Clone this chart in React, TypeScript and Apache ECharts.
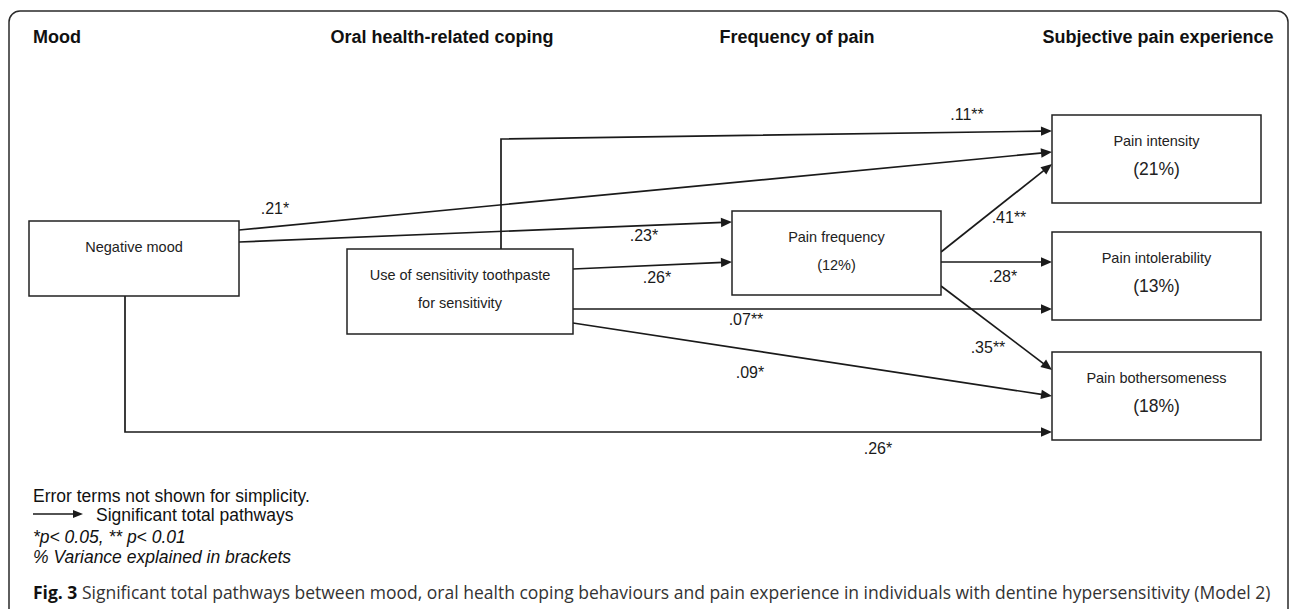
import React, { useEffect, useRef } from "react";
import * as echarts from "echarts";

// ---------- DATA ----------
const columnHeaders = ["Mood", "Oral health-related coping", "Frequency of pain", "Subjective pain experience"];
const variableLabels = [
  "Negative mood",
  "Use of sensitivity toothpaste\nfor sensitivity",
  "Pain frequency",
  "Pain intensity",
  "Pain intolerability",
  "Pain bothersomeness",
];
const varianceExplained: (number | null)[] = [null, null, 12, 21, 13, 18];
const pathFrom = [1, 0, 0, 1, 2, 2, 1, 2, 1, 0];
const pathTo = [3, 3, 2, 2, 3, 4, 4, 5, 5, 5];
const pathCoefficients = [".11", ".21", ".23", ".26", ".41", ".28", ".07", ".35", ".09", ".26"];
const pathSignificance = ["**", "*", "*", "*", "**", "*", "**", "**", "*", "*"];
const noteLines = [
  "Error terms not shown for simplicity.",
  "Significant total pathways",
  "*p< 0.05, ** p< 0.01",
  "% Variance explained in brackets",
];
const captionLead = "Fig. 3";
const captionText =
  "Significant total pathways between mood, oral health coping behaviours and pain experience in individuals with dentine hypersensitivity (Model 2)";

// ---------- LAYOUT (diagram space = pixel space of the canvas) ----------
const W = 1292;
const H = 609;
const FONT = '"Liberation Sans", Arial, Helvetica, sans-serif';
const CAPTION_FONT = '"Open Sans", "Noto Sans", sans-serif';
const INK = "#1a1a1a";

const BOXES = [
  { x: 29, y: 221, w: 210, h: 75 },
  { x: 347, y: 249, w: 226, h: 85 },
  { x: 732, y: 211, w: 209, h: 84 },
  { x: 1052, y: 115, w: 209, h: 88 },
  { x: 1052, y: 232, w: 209, h: 88 },
  { x: 1052, y: 352, w: 209, h: 88 },
];
const LINE1_OFFSET = 26;
const LINE2_OFFSET = 54;
const VARIANCE_FONT = [14.5, 14.5, 14.5, 17.5, 17.5, 17.5];

const PATH_ROUTES: number[][][] = [
  [[501, 249], [501, 139], [1052, 131]],
  [[239, 230], [1052, 152]],
  [[239, 242], [732, 222]],
  [[573, 269], [732, 262]],
  [[941, 252], [1052, 164]],
  [[941, 262], [1052, 262]],
  [[573, 309], [1052, 309]],
  [[941, 286], [1052, 370]],
  [[573, 323], [1052, 396]],
  [[125, 296], [125, 432], [1052, 432]],
];
const LABEL_ANCHORS = [
  [967, 114], [275, 208], [644, 235], [657, 277], [1009, 217],
  [1003, 276], [746, 319], [988, 347], [750, 372], [878, 448],
];
const HEADER_POS = [
  { x: 33, align: "left" },
  { x: 442, align: "center" },
  { x: 797, align: "center" },
  { x: 1158, align: "center" },
];

function arrowParts(pts: number[][], len = 11, hw = 4.7) {
  const n = pts.length;
  const [tx, ty] = pts[n - 1];
  const [px, py] = pts[n - 2];
  const dx = tx - px;
  const dy = ty - py;
  const d = Math.hypot(dx, dy) || 1;
  const ux = dx / d;
  const uy = dy / d;
  const bx = tx - ux * len;
  const by = ty - uy * len;
  const linePts = pts.slice(0, n - 1).concat([[bx + ux * 2, by + uy * 2]]);
  const head = [
    [tx, ty],
    [bx - uy * hw, by + ux * hw],
    [bx + uy * hw, by - ux * hw],
  ];
  return { linePts, head };
}

function buildOption(): any {
  const legendArrow = arrowParts([[33, 514], [83, 514]], 10, 4);
  return {
    animation: false,
    backgroundColor: "#ffffff",
    grid: { left: 0, right: 0, top: 0, bottom: 0, containLabel: false },
    xAxis: { type: "value", min: 0, max: W, show: false },
    yAxis: { type: "value", min: 0, max: H, inverse: true, show: false },
    graphic: [
      {
        type: "rect",
        z: 0,
        shape: { x: 9, y: 11, width: 1279, height: 660, r: 11 },
        style: { fill: "none", stroke: "#2a2a2a", lineWidth: 1.5 },
      },
      ...columnHeaders.map((h, i) => ({
        type: "text",
        z: 5,
        style: {
          text: h,
          x: HEADER_POS[i].x,
          y: 37,
          align: HEADER_POS[i].align,
          verticalAlign: "middle",
          font: `bold 18px ${FONT}`,
          fill: "#111",
        },
      })),
      {
        type: "text",
        style: { text: noteLines[0], x: 33, y: 496, verticalAlign: "middle", font: `17.5px ${FONT}`, fill: "#111" },
      },
      {
        type: "polyline",
        shape: { points: legendArrow.linePts },
        style: { stroke: INK, lineWidth: 1.6, fill: "none" },
      },
      { type: "polygon", shape: { points: legendArrow.head }, style: { fill: INK } },
      {
        type: "text",
        style: { text: noteLines[1], x: 96, y: 515, verticalAlign: "middle", font: `17.5px ${FONT}`, fill: "#111" },
      },
      {
        type: "text",
        style: { text: noteLines[2], x: 33, y: 537, verticalAlign: "middle", font: `italic 17.5px ${FONT}`, fill: "#111" },
      },
      {
        type: "text",
        style: { text: noteLines[3], x: 33, y: 557, verticalAlign: "middle", font: `italic 17.5px ${FONT}`, fill: "#111" },
      },
      {
        type: "text",
        style: {
          text: `{b|${captionLead}} ${captionText}`,
          x: 33,
          y: 592,
          verticalAlign: "middle",
          font: `17.5px ${CAPTION_FONT}`,
          fill: "#333",
          rich: {
            b: { fontWeight: "bold", fontSize: 17.5, fontFamily: CAPTION_FONT, fill: "#111" },
          },
        },
      },
    ],
    series: [
      {
        type: "custom",
        name: "paths",
        coordinateSystem: "cartesian2d",
        data: pathCoefficients.map((c, i) => [pathFrom[i], pathTo[i]]),
        renderItem: (params: any, api: any) => {
          const i = params.dataIndex;
          const pts = PATH_ROUTES[i].map((p) => api.coord(p));
          const { linePts, head } = arrowParts(pts);
          const [lx, ly] = api.coord(LABEL_ANCHORS[i]);
          return {
            type: "group",
            children: [
              { type: "polyline", shape: { points: linePts }, style: { stroke: INK, lineWidth: 1.7, fill: "none" } },
              { type: "polygon", shape: { points: head }, style: { fill: INK } },
              {
                type: "text",
                style: {
                  text: pathCoefficients[i] + pathSignificance[i],
                  x: lx,
                  y: ly,
                  align: "center",
                  verticalAlign: "middle",
                  font: `16px ${FONT}`,
                  fill: INK,
                },
              },
            ],
          };
        },
      },
      {
        type: "custom",
        name: "variables",
        coordinateSystem: "cartesian2d",
        data: variableLabels.map((_, i) => [i, varianceExplained[i] ?? 0]),
        renderItem: (params: any, api: any) => {
          const i = params.dataIndex;
          const b = BOXES[i];
          const [x0, y0] = api.coord([b.x, b.y]);
          const [x1, y1] = api.coord([b.x + b.w, b.y + b.h]);
          const cx = (x0 + x1) / 2;
          const lines = variableLabels[i].split("\n");
          const texts: string[] = [...lines];
          const sizes: number[] = lines.map(() => 14.5);
          const v = varianceExplained[i];
          if (v !== null) {
            texts.push(`(${v}%)`);
            sizes.push(VARIANCE_FONT[i]);
          }
          const offsets = [LINE1_OFFSET, LINE2_OFFSET];
          const children: any[] = [
            {
              type: "rect",
              shape: { x: x0, y: y0, width: x1 - x0, height: y1 - y0 },
              style: { fill: "#fff", stroke: "#222", lineWidth: 1.5 },
            },
          ];
          texts.forEach((t, k) => {
            const [, ty] = api.coord([b.x, b.y + offsets[k]]);
            children.push({
              type: "text",
              style: {
                text: t,
                x: cx,
                y: ty,
                align: "center",
                verticalAlign: "middle",
                font: `${sizes[k]}px ${FONT}`,
                fill: "#222",
              },
            });
          });
          return { type: "group", children };
        },
      },
    ],
  };
}

export default function App() {
  const ref = useRef<HTMLDivElement>(null);
  useEffect(() => {
    if (!ref.current) return;
    const chart = echarts.init(ref.current, null, { renderer: "svg" });
    chart.setOption(buildOption());
    return () => chart.dispose();
  }, []);
  return (
    <div
      ref={ref}
      style={{ position: "absolute", left: 0, top: 0, width: W, height: H, background: "#fff" }}
    />
  );
}
